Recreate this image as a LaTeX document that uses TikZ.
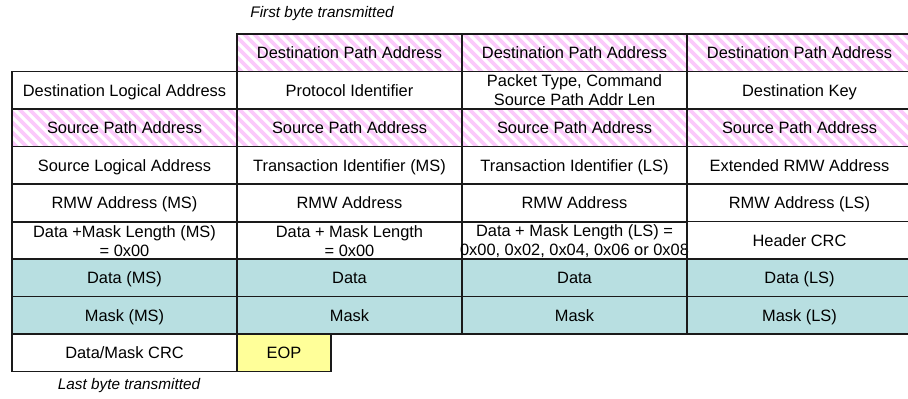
\documentclass[tikz,border=0pt]{standalone}
\usepackage{fontspec}
\setmainfont{Liberation Sans}
\definecolor{stripepink}{HTML}{FBCAFB}
\definecolor{datafill}{HTML}{B8DFE1}
\definecolor{eopfill}{HTML}{FFFF99}
\definecolor{rule}{HTML}{1A1A1A}
\begin{document}
\begin{tikzpicture}[x=0.75pt,y=-0.75pt,
  cell/.style={draw=rule, line width=1.1pt, minimum width=168.75pt,
    minimum height=28.125pt, inner sep=0pt, align=center,
    text height=10pt, text depth=1.2pt,
    font=\fontsize{12.3}{14}\selectfont},
  twoline/.style={text height={}, text depth={}},
  datacell/.style={cell, fill=datafill},
  eopcell/.style={cell, fill=eopfill, minimum width=70.5pt},
  stripe/.style={stripepink, line width=2.7pt},
  note/.style={font=\fontsize{11.5}{13}\selectfont\itshape}]
\path[use as bounding box, clip] (0,0) rectangle (908,399);

% diagonal hatching of the path address rows
\begin{scope}
  \clip (237,34) rectangle (912,71.5) (12,109) rectangle (912,146.5);
  \foreach \k in {-50,...,100}
    \draw[stripe] (\k*10,0) -- ++(420,420);
\end{scope}

% row 0
\node[cell] (r0c1) at (349.5,52.75) {Destination Path Address};
\node[cell] (r0c2) at (574.5,52.75) {Destination Path Address};
\node[cell] (r0c3) at (799.5,52.75) {Destination Path Address};
% row 1
\node[cell] (r1c0) at (124.5,90.25) {Destination Logical Address};
\node[cell] (r1c1) at (349.5,90.25) {Protocol Identifier};
\node[cell, twoline] (r1c2) at (574.5,90.25) {Packet Type, Command\\Source Path Addr Len};
\node[cell] (r1c3) at (799.5,90.25) {Destination Key};
% row 2
\node[cell] (r2c0) at (124.5,127.75) {Source Path Address};
\node[cell] (r2c1) at (349.5,127.75) {Source Path Address};
\node[cell] (r2c2) at (574.5,127.75) {Source Path Address};
\node[cell] (r2c3) at (799.5,127.75) {Source Path Address};
% row 3
\node[cell] (r3c0) at (124.5,165.25) {Source Logical Address};
\node[cell] (r3c1) at (349.5,165.25) {Transaction Identifier (MS)};
\node[cell] (r3c2) at (574.5,165.25) {Transaction Identifier (LS)};
\node[cell] (r3c3) at (799.5,165.25) {Extended RMW Address};
% row 4
\node[cell] (r4c0) at (124.5,202.75) {RMW Address (MS)};
\node[cell] (r4c1) at (349.5,202.75) {RMW Address};
\node[cell] (r4c2) at (574.5,202.75) {RMW Address};
\node[cell] (r4c3) at (799.5,202.75) {RMW Address (LS)};
% row 5
\node[cell, twoline] (r5c0) at (124.5,241) {Data +Mask Length (MS)\\= 0x00};
\node[cell, twoline] (r5c1) at (349.5,241) {Data + Mask Length\\= 0x00};
\node[cell, twoline] (r5c2) at (574.5,241) {Data + Mask Length (LS) =\\\makebox[0pt]{0x00, 0x02, 0x04, 0x06 or 0x08}};
\node[cell] (r5c3) at (799.5,240.25) {Header CRC};
% row 6
\node[datacell] (r6c0) at (124.5,277.75) {Data (MS)};
\node[datacell] (r6c1) at (349.5,277.75) {Data};
\node[datacell] (r6c2) at (574.5,277.75) {Data};
\node[datacell] (r6c3) at (799.5,277.75) {Data (LS)};
% row 7
\node[datacell] (r7c0) at (124.5,315.25) {Mask (MS)};
\node[datacell] (r7c1) at (349.5,315.25) {Mask};
\node[datacell] (r7c2) at (574.5,315.25) {Mask};
\node[datacell] (r7c3) at (799.5,315.25) {Mask (LS)};
% row 8
\node[cell] (r8c0) at (124.5,352.75) {Data/Mask CRC};
\node[eopcell] (eop) at (284,352.75) {EOP};

% captions
\node[note] (first) at (322,14) {First byte transmitted};
\node[note] (last) at (129,386) {Last byte transmitted};
\end{tikzpicture}
\end{document}
